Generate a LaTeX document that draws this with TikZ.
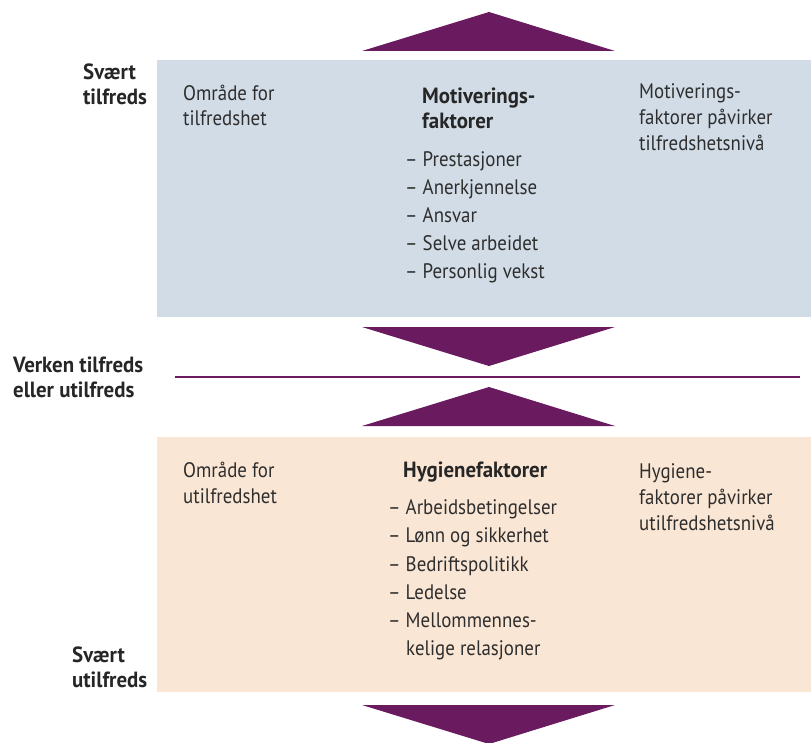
\documentclass[tikz,border=0pt]{standalone}
\usepackage{fontspec}
\setmainfont{PT Sans}
\newfontfamily\regfont{PT Sans}[FakeStretch=0.9]
\newfontfamily\boldfont{PT Sans}[FakeStretch=0.95]
\definecolor{bluebox}{HTML}{D1DCE7}
\definecolor{orangebox}{HTML}{FAE6D4}
\definecolor{purp}{HTML}{6A1A5E}
\definecolor{txt}{HTML}{2E2E2E}
\begin{document}
\begin{tikzpicture}[x=1pt,y=-1pt,
  lbl/.style={anchor=base west,inner sep=0pt,text=txt,font=\regfont\fontsize{21}{24}\selectfont},
  blbl/.style={lbl,text=black!85,font=\boldfont\fontsize{22}{24}\selectfont\bfseries},
  tri/.style={fill=purp,draw=none}]
\useasboundingbox (0,0) rectangle (811,743);
% boxes
\fill[bluebox] (157,60) rectangle (811,317);
\fill[orangebox] (157,437) rectangle (811,692);
% triangles
\fill[tri] (362,51) -- (615,51) -- (489,12) -- cycle;
\fill[tri] (362,327) -- (615,327) -- (489,366) -- cycle;
\fill[tri] (362,426) -- (615,426) -- (489,387) -- cycle;
\fill[tri] (362,705) -- (615,705) -- (489,744) -- cycle;
% neutral line
\coordinate (ls) at (175,377);
\coordinate (le) at (800,377);
\draw[purp,line width=2pt] (ls) -- (le);
% left labels
\node[blbl] (s1a) at (83,80) {Svært};
\node[blbl] (s1b) at (83,105) {tilfreds};
\node[blbl] (v1a) at (13,372) {Verken tilfreds};
\node[blbl] (v1b) at (13,397) {eller utilfreds};
\node[blbl] (u1a) at (72,662) {Svært};
\node[blbl] (u1b) at (72,687) {utilfreds};
% upper box
\node[lbl] (oa) at (183,101) {Område for};
\node[lbl] (ob) at (183,126) {tilfredshet};
\node[blbl] (ma) at (422,104) {Motiverings-};
\node[blbl] (mb) at (422,129) {faktorer};
\node[lbl] (m1) at (405,167) {– Prestasjoner};
\node[lbl] (m2) at (405,195) {– Anerkjennelse};
\node[lbl] (m3) at (405,223) {– Ansvar};
\node[lbl] (m4) at (405,251) {– Selve arbeidet};
\node[lbl] (m5) at (405,279) {– Personlig vekst};
\node[lbl] (ra) at (639,99) {Motiverings-};
\node[lbl] (rb) at (639,125) {faktorer påvirker};
\node[lbl] (rc) at (639,151) {tilfredshetsnivå};
% lower box
\node[lbl] (pa) at (183,477) {Område for};
\node[lbl] (pb) at (183,503) {utilfredshet};
\node[blbl] (ha) at (403,477) {Hygienefaktorer};
\node[lbl] (h1) at (388,514) {– Arbeidsbetingelser};
\node[lbl] (h2) at (388,542) {– Lønn og sikkerhet};
\node[lbl] (h3) at (388,571) {– Bedriftspolitikk};
\node[lbl] (h4) at (388,599) {– Ledelse};
\node[lbl] (h5) at (388,627) {– Mellommennes-};
\node[lbl] (h6) at (406,655) {kelige relasjoner};
\node[lbl] (qa) at (639,478) {Hygiene-};
\node[lbl] (qb) at (639,504) {faktorer påvirker};
\node[lbl] (qc) at (639,530) {utilfredshetsnivå};
\end{tikzpicture}
\end{document}
